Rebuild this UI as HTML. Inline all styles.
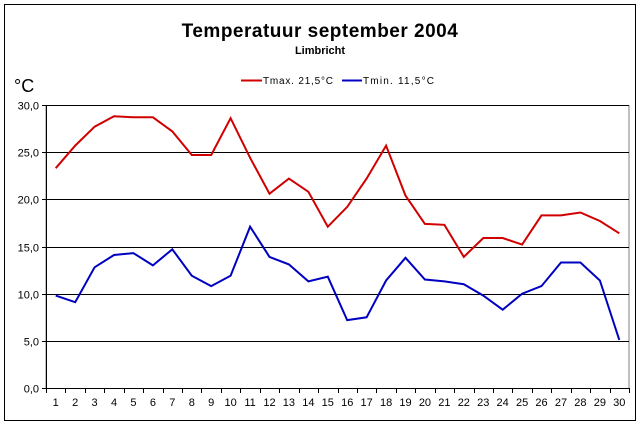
<!DOCTYPE html>
<html><head><meta charset="utf-8"><style>body{margin:0;background:#fff}svg{display:block}text{font-family:"Liberation Sans",Arial,sans-serif}</style></head>
<body>
<svg id="s" width="640" height="424" xmlns="http://www.w3.org/2000/svg">
<rect x="0" y="0" width="640" height="424" fill="#fff"/>
<rect x="4.5" y="4.5" width="631" height="416" fill="none" stroke="#000" stroke-width="1"/>
<text x="320" y="37" text-anchor="middle" font-size="19" font-weight="bold" letter-spacing="0.5">Temperatuur september 2004</text>
<text x="320" y="54" text-anchor="middle" font-size="11" font-weight="bold">Limbricht</text>
<text x="14" y="92" font-size="18">°C</text>
<line x1="241" y1="80.5" x2="262" y2="80.5" stroke="#d00000" stroke-width="2"/>
<text x="263" y="84" font-size="10" textLength="70">Tmax. 21,5°C</text>
<line x1="342" y1="80.5" x2="362" y2="80.5" stroke="#0000c0" stroke-width="2"/>
<text x="363" y="84" font-size="10" textLength="71">Tmin. 11,5°C</text>
<g id="g"></g>
</svg>
<script>
var g=document.getElementById('g'),h='';
var L=46,R=629,T=105,B=388,sc=(B-T)/30,w=(R-L)/30;
function y(v){return B-v*sc}
h+='<rect x="'+L+'" y="'+T+'.5" width="'+(R-L)+'" height="'+(B-T)+'" fill="none" stroke="#808080"/>';
for(var v=0;v<=30;v+=5){var yy=Math.round(y(v))+0.5;
 if(v>0)h+='<line x1="'+L+'" y1="'+yy+'" x2="'+R+'" y2="'+yy+'" stroke="#000"/>';
 h+='<line x1="'+(L-4)+'" y1="'+yy+'" x2="'+L+'" y2="'+yy+'" stroke="#000"/>';
 h+='<text x="'+(L-7)+'" y="'+(yy+4)+'" font-size="11" text-anchor="end">'+v+',0</text>';}
h+='<line x1="'+L+'.5" y1="'+T+'" x2="'+L+'.5" y2="'+B+'" stroke="#000"/>';
h+='<line x1="'+L+'" y1="'+(B+0.5)+'" x2="'+R+'" y2="'+(B+0.5)+'" stroke="#000"/>';
for(var i=0;i<=30;i++){var xx=Math.round(L+i*w)+0.5;h+='<line x1="'+xx+'" y1="'+B+'" x2="'+xx+'" y2="'+(B+5)+'" stroke="#000"/>';
 if(i<30)h+='<text x="'+(L+(i+0.5)*w)+'" y="'+(B+18)+'" font-size="11" text-anchor="middle">'+(i+1)+'</text>';}
var r=[23.3,25.7,27.7,28.8,28.7,28.7,27.2,24.7,24.7,28.6,24.4,20.6,22.2,20.8,17.1,19.2,22.2,25.7,20.4,17.4,17.3,13.9,15.9,15.9,15.2,18.3,18.3,18.6,17.7,16.4];
var b=[9.8,9.1,12.8,14.1,14.3,13.0,14.7,11.9,10.8,11.9,17.1,13.9,13.1,11.3,11.8,7.2,7.5,11.4,13.8,11.5,11.3,11.0,9.8,8.3,10.0,10.8,13.3,13.3,11.4,5.1];
function pl(a,c){return '<polyline fill="none" stroke="'+c+'" stroke-width="2" points="'+a.map(function(v,i){return (L+(i+0.5)*w).toFixed(1)+','+y(v).toFixed(1)}).join(' ')+'"/>';}
h+=pl(r,'#d00000')+pl(b,'#0000c0');
g.innerHTML=h;
</script>
</body></html>
